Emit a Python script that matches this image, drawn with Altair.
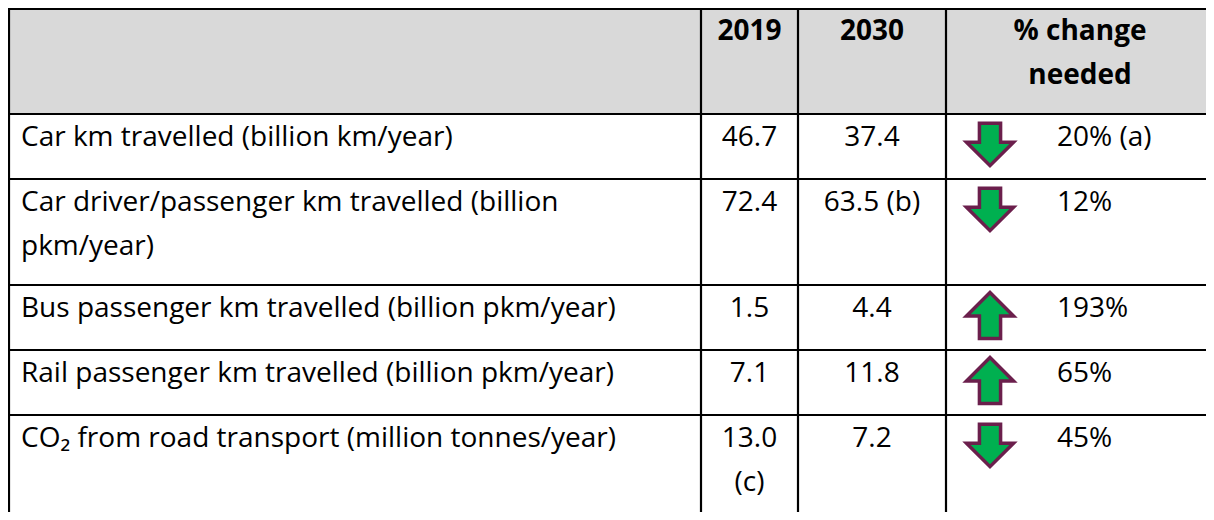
import altair as alt
import pandas as pd

# ---------------- data ----------------
header_2019 = "2019"
header_2030 = "2030"
header_change = "% change\nneeded"

labels = [
    "Car km travelled (billion km/year)",
    "Car driver/passenger km travelled (billion\npkm/year)",
    "Bus passenger km travelled (billion pkm/year)",
    "Rail passenger km travelled (billion pkm/year)",
    "CO\u2082 from road transport (million tonnes/year)",
]
values_2019 = ["46.7", "72.4", "1.5", "7.1", "13.0\n(c)"]
values_2030 = ["37.4", "63.5 (b)", "4.4", "11.8", "7.2"]
change_needed = ["20% (a)", "12%", "193%", "65%", "45%"]
direction = ["down", "down", "up", "up", "down"]

# ---------------- layout ----------------
W, H = 1198, 504
FONT = "Open Sans"
FS = 28
LINE_H = 44
col_widths = [693, 97, 148, 268]
col_edges = [0]
for w in col_widths:
    col_edges.append(col_edges[-1] + w)

def n_lines(*cells):
    return max(c.count("\n") + 1 for c in cells)

row_lines = [n_lines(header_2019, header_2030, header_change)]
for i in range(len(labels)):
    row_lines.append(n_lines(labels[i], values_2019[i], values_2030[i], change_needed[i]))
row_heights = [24 + 41 * n for n in row_lines]
row_edges = [0]
for h in row_heights:
    row_edges.append(row_edges[-1] + h)

xs = alt.Scale(domain=[0, W], range=[0, W], nice=False, zero=False)
ys = alt.Scale(domain=[0, H], range=[0, H], nice=False, zero=False)

def X(f):
    return alt.X(f, type="quantitative", scale=xs, axis=None)

def Y(f):
    return alt.Y(f, type="quantitative", scale=ys, axis=None)

# header background
hdr = pd.DataFrame([{"x": 0, "x2": W, "y": row_edges[0], "y2": row_edges[1]}])
hdr_rect = alt.Chart(hdr).mark_rect(color="#D9D9D9").encode(
    x=X("x"), x2="x2", y=Y("y"), y2="y2"
)

# grid lines (right and bottom borders lie outside the picture)
lines = []
for ye in row_edges:
    if ye < H:
        lines.append({"x": 0, "x2": W, "y": max(ye, 1), "y2": max(ye, 1)})
for xe in col_edges:
    if xe < W:
        lines.append({"x": max(xe, 1), "x2": max(xe, 1), "y": 0, "y2": H})
grid = alt.Chart(pd.DataFrame(lines)).mark_rule(color="#000000", strokeWidth=2.2).encode(
    x=X("x"), x2="x2", y=Y("y"), y2="y2"
)

# header text
htxt = pd.DataFrame([
    {"t": header_2019, "x": (col_edges[1] + col_edges[2]) / 2, "y": row_edges[0] + 32},
    {"t": header_2030, "x": (col_edges[2] + col_edges[3]) / 2, "y": row_edges[0] + 32},
    {"t": header_change, "x": (col_edges[3] + col_edges[4]) / 2, "y": row_edges[0] + 32},
])
header_text = alt.Chart(htxt).mark_text(
    font=FONT, fontSize=FS, fontWeight="bold", color="#000000", align="center",
    baseline="alphabetic", lineBreak="\n", lineHeight=LINE_H
).encode(x=X("x"), y=Y("y"), text="t:N")

# body
rows = []
for i in range(len(labels)):
    top = row_edges[i + 1]
    rows.append({
        "label": labels[i], "v19": values_2019[i], "v30": values_2030[i],
        "chg": change_needed[i], "dir": direction[i],
        "ty": top + 32, "ay": top + 30.5,
    })
body = pd.DataFrame(rows)
body["lx"] = col_edges[0] + 13
body["x19"] = (col_edges[1] + col_edges[2]) / 2
body["x30"] = (col_edges[2] + col_edges[3]) / 2
body["xc"] = col_edges[3] + 111
body["xa"] = col_edges[3] + 44

base = alt.Chart(body)
tkw = dict(font=FONT, fontSize=FS, color="#000000", baseline="alphabetic",
           lineBreak="\n", lineHeight=LINE_H)
label_text = base.mark_text(align="left", **tkw).encode(x=X("lx"), y=Y("ty"), text="label:N")
v19_text = base.mark_text(align="center", **tkw).encode(x=X("x19"), y=Y("ty"), text="v19:N")
v30_text = base.mark_text(align="center", **tkw).encode(x=X("x30"), y=Y("ty"), text="v30:N")
chg_text = base.mark_text(align="left", **tkw).encode(x=X("xc"), y=Y("ty"), text="chg:N")

down_path = "M-0.45,-0.9L0.45,-0.9L0.45,-0.1L1,-0.1L0,0.9L-1,-0.1L-0.45,-0.1Z"
up_path = "M0,-0.98L1,0.02L0.45,0.02L0.45,0.98L-0.45,0.98L-0.45,0.02L-1,0.02Z"
arrows = base.mark_point(
    filled=True, fill="#00B050", stroke="#6B1F4C", strokeWidth=3.5,
    strokeJoin="miter", opacity=1, size=2209
).encode(
    x=X("xa"), y=Y("ay"),
    shape=alt.Shape("dir:N", scale=alt.Scale(domain=["down", "up"], range=[down_path, up_path]), legend=None),
)

chart = alt.layer(
    hdr_rect, grid, header_text, label_text, v19_text, v30_text, chg_text, arrows
).properties(
    width=W, height=H, padding=0, autosize=alt.AutoSizeParams(type="none")
).configure_view(strokeWidth=0)

chart.save("out.html", embed_options={"renderer": "svg", "actions": False})
